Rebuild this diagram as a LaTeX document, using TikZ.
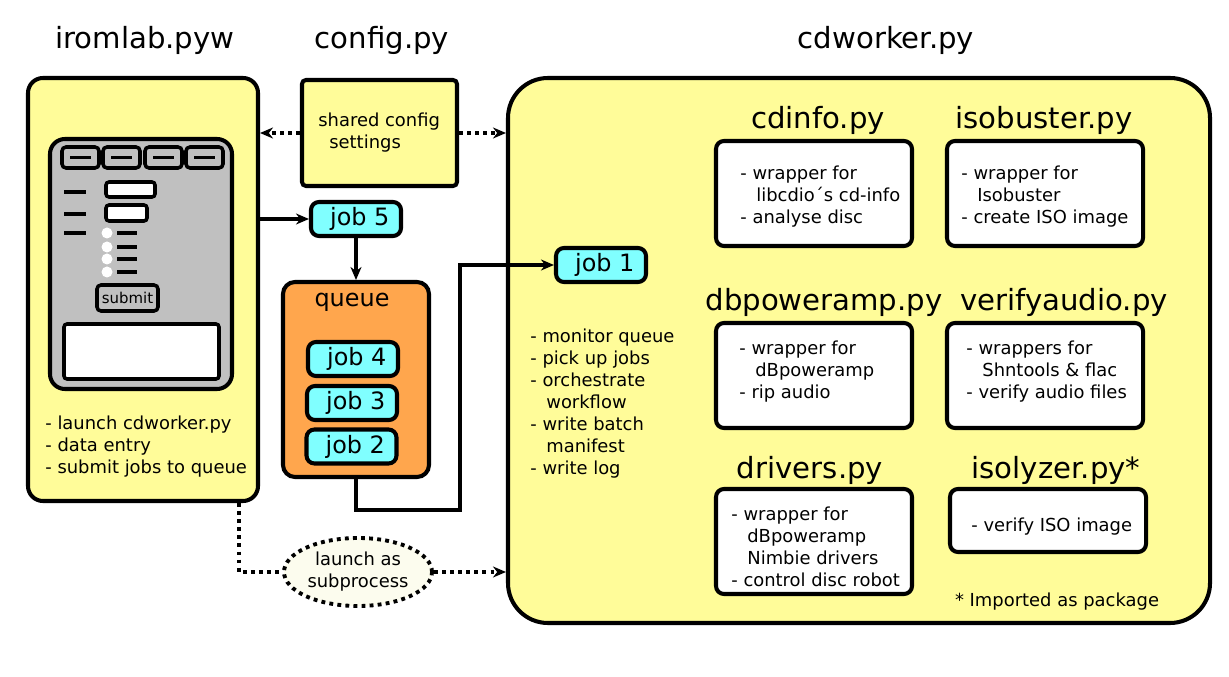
\documentclass[tikz,border=0pt]{standalone}
\usepackage{fontspec}
\setmainfont{DejaVu Sans}
\usepackage{tikz}
\usetikzlibrary{arrows.meta}
\usetikzlibrary{positioning,shapes.geometric,calc}
\definecolor{boxyellow}{RGB}{255,252,153}
\definecolor{jobcyan}{RGB}{128,255,255}
\definecolor{queueorange}{RGB}{255,166,77}
\definecolor{panelgray}{RGB}{192,192,192}
\definecolor{bubblecream}{RGB}{252,252,238}
\newcommand{\fnttitle}{\fontsize{16.6}{20}\selectfont}
\newcommand{\fntnote}{\fontsize{10.2}{12.5}\selectfont}
\newcommand{\fntjob}{\fontsize{13.6}{16}\selectfont}
\newcommand{\wrapind}{\hspace*{3.2mm}}

\begin{document}
\begin{tikzpicture}[x=0.2mm,y=-0.2mm,
    bigbox/.style={draw,line width=2.3pt,fill=boxyellow,inner sep=0pt},
    modbox/.style={draw,line width=2.3pt,fill=white,rounded corners=1.6mm,
      minimum width=39.2mm,minimum height=21mm},
    pytitle/.style={font=\fnttitle,inner sep=0pt},
    jobbox/.style={draw,line width=2.3pt,fill=jobcyan,rounded corners=1.6mm,
      minimum width=18mm,minimum height=6.8mm,inner sep=0pt,font=\fntjob},
    flow/.style={line width=2pt,-{Stealth[length=2.6mm,width=2.2mm]}},
    dotline/.style={line width=2.2pt,dash pattern=on 2.2pt off 2.4pt},
    dotarrow/.style={dotline,-{Stealth[length=2.6mm,width=2.2mm]}},
    notes/.style={font=\fntnote,align=left,anchor=west,inner sep=0pt}]
    \useasboundingbox (0,0) rectangle (1229,677);
    % titles of the three programs
    \node[pytitle] (iromtitle) at (145,40) {iromlab.pyw};
    \node[pytitle] (configtitle) at (382,40) {config.py};
    \node[pytitle] (workertitle) at (886,40) {cdworker.py};
    % main boxes
    \node[bigbox,rounded corners=3mm,minimum width=46mm,minimum height=84.6mm]
      (iromlab) at (143,289.5) {};
    \node[bigbox,rounded corners=8mm,minimum width=140.4mm,minimum height=109mm]
      (cdworker) at (859,350.5) {};
    \node[bigbox,rounded corners=0.8mm,minimum width=31mm,minimum height=21.2mm]
      (config) at (379.5,133) {};
    \node[notes] (configtext) at (318,133) {shared config\\\hspace*{2.2mm}settings};
    % the gui panel
    \draw[line width=2.3pt,fill=panelgray,rounded corners=3mm] (50,139) rectangle (232,389);
    \foreach \x in {62,103,145,186}{
      \draw[line width=2pt,fill=panelgray,rounded corners=0.8mm] (\x,147) rectangle +(37,21);
      \draw[line width=2pt] (\x+8,157.5) -- +(21,0);}
    \foreach \y in {192,214,233}{
      \draw[line width=2pt] (64,\y) -- (86,\y);}
    \draw[line width=2pt,fill=white,rounded corners=0.6mm] (106,182) rectangle (155,197);
    \draw[line width=2pt,fill=white,rounded corners=0.6mm] (106,205) rectangle (147,221);
    \foreach \y in {233,247,259,272}{
      \fill[white] (107,\y) circle (1.1mm);
      \draw[line width=2pt] (117,\y) -- (137,\y);}
    \node[draw,line width=2pt,fill=panelgray,rounded corners=0.8mm,minimum width=12.2mm,
      minimum height=5.2mm,inner sep=0pt,font=\fontsize{8.5}{10}\selectfont]
      (submit) at (127.5,298) {submit};
    \draw[line width=2pt,fill=white,rounded corners=0.6mm] (64,324) rectangle (219,379);
    \node[notes] (iromnotes) at (45,447)
      {- launch cdworker.py\\- data entry\\- submit jobs to queue};
    % queue and jobs
    \node[jobbox] (job5) at (356,219) {\hspace*{1.5mm}job 5};
    \node[draw,line width=2.3pt,fill=queueorange,rounded corners=2.4mm,minimum width=29.2mm,
      minimum height=39mm] (queue) at (356,379.5) {};
    \node[font=\fntjob,inner sep=0pt] (queuelabel) at (352,302) {queue};
    \node[jobbox] (job4) at (353,359) {\hspace*{1.5mm}job 4};
    \node[jobbox] (job3) at (352,403) {\hspace*{1.5mm}job 3};
    \node[jobbox] (job2) at (351.5,446.5) {\hspace*{1.5mm}job 2};
    \node[jobbox] (job1) at (601,265) {\hspace*{1.5mm}job 1};
    \node[notes] (worknotes) at (530,403.5)
      {- monitor queue\\- pick up jobs\\- orchestrate\\\wrapind workflow\\- write batch\\\wrapind manifest\\- write log};
    % modules of cdworker
    \node[pytitle] (cdinfotitle) at (818,120) {cdinfo.py};
    \node[modbox] (cdinfo) at (814,193.5) {};
    \node[notes] (cdinfonotes) at (740,197)
      {- wrapper for\\\wrapind libcdio´s cd-info\\- analyse disc};
    \node[pytitle] (isobustertitle) at (1044,120) {isobuster.py};
    \node[modbox] (isobuster) at (1045,193.5) {};
    \node[notes] (isobusternotes) at (961,197)
      {- wrapper for\\\wrapind Isobuster\\- create ISO image};
    \node[pytitle] (dbpowertitle) at (824,302) {dbpoweramp.py};
    \node[modbox] (dbpoweramp) at (814,375.5) {};
    \node[notes] (dbpowernotes) at (739,372)
      {- wrapper for\\\wrapind dBpoweramp\\- rip audio};
    \node[pytitle] (verifytitle) at (1064,302) {verifyaudio.py};
    \node[modbox] (verifyaudio) at (1045,375.5) {};
    \node[notes] (verifynotes) at (966,372)
      {- wrappers for\\\wrapind Shntools \& flac\\- verify audio files};
    \node[pytitle] (driverstitle) at (810,470) {drivers.py};
    \node[modbox] (drivers) at (814,541.5) {};
    \node[notes] (driversnotes) at (731,547)
      {- wrapper for\\\wrapind dBpoweramp\\\wrapind Nimbie drivers\\- control disc robot};
    \node[pytitle] (isolyzertitle) at (1056,470) {isolyzer.py*};
    \node[modbox,minimum height=12.6mm] (isolyzer) at (1048,520.5) {};
    \node[notes] (isolyzernotes) at (971,527) {- verify ISO image};
    \node[font=\fntnote,inner sep=0pt] (pkgnote) at (1057,602) {* Imported as package};
    % launch bubble
    \node[ellipse,dotline,draw,fill=bubblecream,minimum width=29.6mm,minimum height=13.6mm,
      inner sep=0pt,font=\fntnote,align=center] (launch) at (358,572)
      {launch as\\subprocess};
    % connectors
    \draw[dotarrow] (config.west) -- (config.west -| iromlab.east);
    \draw[dotarrow] (config.east) -- (config.east -| cdworker.west);
    \draw[flow] (iromlab.east |- job5.west) -- (job5.west);
    \draw[flow] (job5.south) -- (job5.south |- queue.north);
    \draw[flow] (queue.south) |- (460,510) |- (job1.west);
    \draw[dotline] ([xshift=-4.2mm]iromlab.south east) |- (launch.west);
    \draw[dotarrow] (launch.east) -- (launch.east -| cdworker.west);
\end{tikzpicture}
\end{document}
